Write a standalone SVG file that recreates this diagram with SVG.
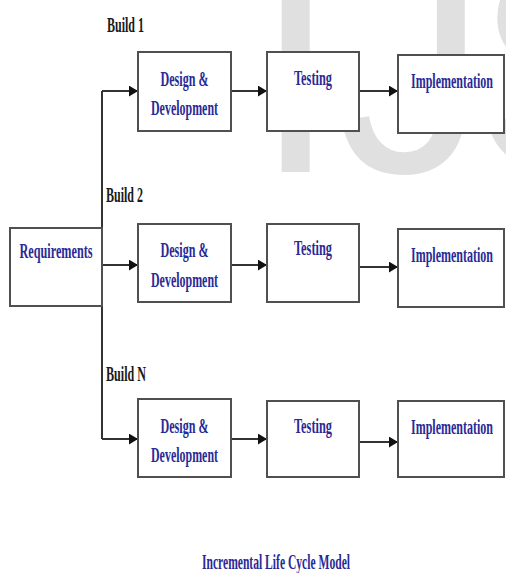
<svg xmlns="http://www.w3.org/2000/svg" width="506" height="573" viewBox="0 0 506 573">
  <style>
    .box { fill: #ffffff; stroke: #505050; stroke-width: 2; }
    .lbl { font-family: "Liberation Serif", "Times New Roman", serif; font-weight: bold; font-size: 21px; fill: #2a2a96; text-anchor: middle; }
    .build { font-family: "Liberation Serif", "Times New Roman", serif; font-weight: bold; font-size: 20px; fill: #1a1a1a; }
    .wire { fill: none; stroke: #333333; stroke-width: 2; }
    .mark { font-family: "Liberation Sans", Arial, sans-serif; font-size: 300px; fill: #e0e0e0; }
  </style>
  <defs>
    <marker id="arrow" viewBox="0 0 10 12" refX="10" refY="6" markerWidth="9" markerHeight="11" markerUnits="userSpaceOnUse" orient="auto">
      <path d="M0,0 L10,6 L0,12 Z" fill="#111111"/>
    </marker>
  </defs>

  <rect width="506" height="573" fill="#ffffff"/>

  <!-- background lettering -->
  <g id="backdrop">
    <text class="mark" x="254" y="172">I</text>
    <text class="mark" x="337" y="172">J</text>
    <text class="mark" x="474" y="172">S</text>
  </g>

  <!-- build labels -->
  <g id="build-labels">
    <text class="build" x="107" y="32" textLength="37" lengthAdjust="spacingAndGlyphs">Build 1</text>
    <text class="build" x="106" y="202" textLength="37" lengthAdjust="spacingAndGlyphs">Build 2</text>
    <text class="build" x="106" y="381" textLength="40" lengthAdjust="spacingAndGlyphs">Build N</text>
  </g>

  <!-- connectors -->
  <g id="connectors">
    <path class="wire" d="M102,91 V439"/>
    <path class="wire" d="M102,91 H138" marker-end="url(#arrow)"/>
    <path class="wire" d="M231,91 H267" marker-end="url(#arrow)"/>
    <path class="wire" d="M359,91 H398" marker-end="url(#arrow)"/>
    <path class="wire" d="M102,265 H138" marker-end="url(#arrow)"/>
    <path class="wire" d="M231,265 H267" marker-end="url(#arrow)"/>
    <path class="wire" d="M359,267 H398" marker-end="url(#arrow)"/>
    <path class="wire" d="M102,439 H138" marker-end="url(#arrow)"/>
    <path class="wire" d="M231,439 H267" marker-end="url(#arrow)"/>
    <path class="wire" d="M359,442 H398" marker-end="url(#arrow)"/>
  </g>

  <g id="requirements">
    <rect class="box" x="10" y="228" width="92" height="78"/>
    <text class="lbl" x="56" y="258" textLength="73" lengthAdjust="spacingAndGlyphs">Requirements</text>
  </g>

  <!-- Build 1 -->
  <g id="design-1">
    <rect class="box" x="138" y="52" width="93" height="79"/>
    <text class="lbl" x="184.5" y="86" textLength="48" lengthAdjust="spacingAndGlyphs">Design &amp;</text>
    <text class="lbl" x="184.5" y="115" textLength="67" lengthAdjust="spacingAndGlyphs">Development</text>
  </g>
  <g id="testing-1">
    <rect class="box" x="267" y="52" width="92" height="79"/>
    <text class="lbl" x="313" y="85" textLength="38" lengthAdjust="spacingAndGlyphs">Testing</text>
  </g>
  <g id="implementation-1">
    <rect class="box" x="398" y="55" width="106" height="78"/>
    <text class="lbl" x="452" y="88" textLength="82" lengthAdjust="spacingAndGlyphs">Implementation</text>
  </g>

  <!-- Build 2 -->
  <g id="design-2">
    <rect class="box" x="138" y="224" width="93" height="78"/>
    <text class="lbl" x="184.5" y="257" textLength="48" lengthAdjust="spacingAndGlyphs">Design &amp;</text>
    <text class="lbl" x="184.5" y="287" textLength="67" lengthAdjust="spacingAndGlyphs">Development</text>
  </g>
  <g id="testing-2">
    <rect class="box" x="267" y="224" width="92" height="78"/>
    <text class="lbl" x="313" y="255" textLength="38" lengthAdjust="spacingAndGlyphs">Testing</text>
  </g>
  <g id="implementation-2">
    <rect class="box" x="398" y="229" width="106" height="78"/>
    <text class="lbl" x="452" y="262" textLength="82" lengthAdjust="spacingAndGlyphs">Implementation</text>
  </g>

  <!-- Build N -->
  <g id="design-n">
    <rect class="box" x="138" y="399" width="93" height="78"/>
    <text class="lbl" x="184.5" y="433" textLength="48" lengthAdjust="spacingAndGlyphs">Design &amp;</text>
    <text class="lbl" x="184.5" y="462" textLength="67" lengthAdjust="spacingAndGlyphs">Development</text>
  </g>
  <g id="testing-n">
    <rect class="box" x="267" y="401" width="92" height="76"/>
    <text class="lbl" x="313" y="433" textLength="38" lengthAdjust="spacingAndGlyphs">Testing</text>
  </g>
  <g id="implementation-n">
    <rect class="box" x="398" y="401" width="106" height="76"/>
    <text class="lbl" x="452" y="434" textLength="82" lengthAdjust="spacingAndGlyphs">Implementation</text>
  </g>

  <g id="caption">
    <text class="lbl" x="276" y="569" textLength="148" lengthAdjust="spacingAndGlyphs">Incremental Life Cycle Model</text>
  </g>
</svg>
